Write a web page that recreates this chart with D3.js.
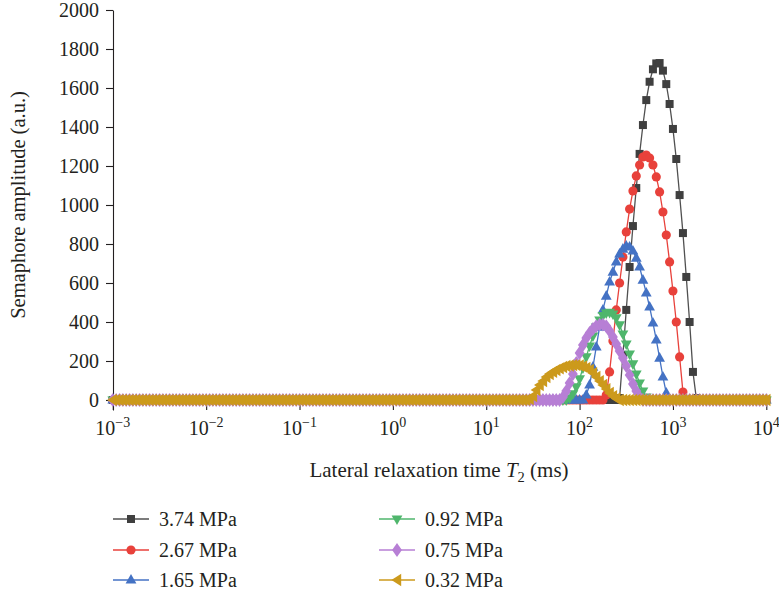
<!DOCTYPE html>
<html>
<head>
<meta charset="utf-8">
<script src="https://cdn.jsdelivr.net/npm/d3@7/dist/d3.min.js"></script>
<style>
  body { margin: 0; background: #ffffff; }
  svg { display: block; }
  svg text { font-family: "Liberation Serif", "Times New Roman", serif; fill: #231f20; }
</style>
</head>
<body>
<svg id="chart" width="779" height="596"></svg>
<script>
// T2 sampling grid of the inversion: 28 points per decade, 1e-3 .. 1e4 ms
const t2Grid = d3.range(197).map(i => Math.pow(10, -3 + i / 28));

// Legend names of the six spectra
const pressureLabels = ["3.74 MPa", "2.67 MPa", "1.65 MPa", "0.92 MPa", "0.75 MPa", "0.32 MPa"];

// Index in t2Grid of the first non-zero amplitude of each spectrum (zero elsewhere)
const firstIndex = [152, 148, 142, 137, 135, 125];

// Amplitudes (a.u.) of each spectrum, starting at its firstIndex
const amp374 = [10, 231, 462, 682, 892, 1087, 1262, 1410, 1538, 1632, 1696, 1726, 1728, 1689, 1620, 1518, 1390, 1236, 1051, 856, 631, 400, 144, 10];
const amp267 = [26, 144, 303, 462, 600, 733, 862, 979, 1072, 1149, 1205, 1246, 1256, 1241, 1205, 1144, 1067, 964, 846, 708, 559, 400, 221, 41];
const amp165 = [26, 77, 169, 272, 374, 462, 533, 605, 656, 708, 749, 774, 790, 785, 764, 728, 682, 615, 549, 477, 395, 308, 215, 118, 36];
const amp092 = [10, 31, 67, 108, 164, 221, 277, 328, 374, 410, 433, 446, 449, 441, 421, 385, 338, 287, 236, 185, 133, 87, 46, 15];
const amp075 = [15, 46, 87, 133, 190, 241, 282, 318, 344, 364, 379, 387, 387, 379, 354, 323, 287, 251, 215, 174, 128, 82, 46, 15];
const amp032 = [5, 20, 51, 77, 97, 118, 133, 144, 154, 162, 169, 174, 177, 179, 179, 177, 172, 164, 154, 138, 118, 97, 77, 56, 36, 20, 8];

const yTickValues = [0, 200, 400, 600, 800, 1000, 1200, 1400, 1600, 1800, 2000];
const xTickExponents = [-3, -2, -1, 0, 1, 2, 3, 4];

const markerColors = ["#3f3f3f", "#e8413b", "#4472c4", "#4fb66c", "#b77fd5", "#cc9a1c"];
const lineColors   = ["#505050", "#e8413b", "#4472c4", "#4fb66c", "#b77fd5", "#cc9a1c"];

// Marker outlines, relative to the marker centre
const markerShapes = [
  "M-4,-4H4V4H-4Z",                                   // square
  d3.symbol(d3.symbolCircle, 66)(),                   // circle
  "M0,-6L5.4,3.6H-5.4Z",                              // triangle up
  "M0,6L5.4,-3.6H-5.4Z",                              // triangle down
  "M0,-6.9L4.9,0L0,6.9L-4.9,0Z",                      // diamond
  "M-5.6,0L4.2,-6.2V6.2Z"                             // triangle left
];

const ampArrays = [amp374, amp267, amp165, amp092, amp075, amp032];
const series = ampArrays.map((arr, s) => t2Grid.map((t, i) => {
  const k = i - firstIndex[s];
  return { t: t, v: (k >= 0 && k < arr.length) ? arr[k] : 0 };
}));

const serif = '"Liberation Serif", "Times New Roman", serif';
const svg = d3.select("#chart");

const x = d3.scaleLog().domain([1e-3, 1e4]).range([112.8, 766.3]);
const y = d3.scaleLinear().domain([-51.3, 2000]).range([410, 10]);

// Y axis
const yAxis = svg.append("g")
  .attr("transform", "translate(113,0)")
  .call(d3.axisLeft(y).tickValues(yTickValues).tickFormat(d3.format("d"))
    .tickSize(7).tickSizeOuter(0).tickPadding(7));
yAxis.attr("font-family", null).attr("font-size", null);
yAxis.select(".domain").attr("stroke", "#231f20").attr("stroke-width", 1.1);
yAxis.selectAll(".tick line").attr("stroke", "#231f20").attr("stroke-width", 1.1);
yAxis.selectAll(".tick text")
  .style("font-family", serif)
  .style("font-size", "20px")
  .attr("fill", "#231f20");

// X axis: decade ticks only, no baseline
const xAxis = svg.append("g")
  .attr("transform", "translate(0,410)")
  .call(d3.axisBottom(x).tickValues(xTickExponents.map(e => Math.pow(10, e))).tickSize(-6).tickFormat(() => ""));
xAxis.select(".domain").remove();
xAxis.selectAll(".tick line").attr("stroke", "#231f20").attr("stroke-width", 1.1);

const xLabels = svg.append("g").selectAll("text")
  .data(xTickExponents)
  .join("text")
  .attr("x", e => x(Math.pow(10, e)))
  .attr("y", 435)
  .attr("text-anchor", "middle")
  .style("font-size", "20px");
xLabels.append("tspan").text("10");
xLabels.append("tspan")
  .style("font-size", "14px")
  .attr("dy", -8)
  .text(e => e < 0 ? "\u2212" + Math.abs(e) : String(e));

// Axis titles
svg.append("text")
  .attr("transform", "translate(25,205) rotate(-90)")
  .attr("text-anchor", "middle")
  .style("font-size", "20.5px")
  .text("Semaphore amplitude (a.u.)");

const xTitle = svg.append("text")
  .attr("x", 439)
  .attr("y", 477)
  .attr("text-anchor", "middle")
  .style("font-size", "21px");
xTitle.append("tspan").text("Lateral relaxation time ");
xTitle.append("tspan").attr("font-style", "italic").text("T");
xTitle.append("tspan").style("font-size", "14.5px").attr("dy", 5).text("2");
xTitle.append("tspan").attr("dy", -5).text(" (ms)");

// Spectra: line then markers, drawn in legend order
const line = d3.line().x(d => x(d.t)).y(d => y(d.v));
series.forEach((data, s) => {
  const g = svg.append("g");
  g.append("path")
    .datum(data)
    .attr("d", line)
    .attr("fill", "none")
    .attr("stroke", lineColors[s])
    .attr("stroke-width", 1.3);
  g.selectAll("path.m")
    .data(data)
    .join("path")
    .attr("class", "m")
    .attr("transform", d => `translate(${x(d.t)},${y(d.v)})`)
    .attr("d", markerShapes[s])
    .attr("fill", markerColors[s]);
});

// Legend: two columns of three entries
const legendCols = [113, 379];
const legendRows = [519, 550, 580];
pressureLabels.forEach((label, s) => {
  const lx = legendCols[Math.floor(s / 3)];
  const ly = legendRows[s % 3];
  const g = svg.append("g").attr("transform", `translate(${lx},${ly})`);
  g.append("line").attr("x1", 0).attr("x2", 36).attr("y1", 0).attr("y2", 0)
    .attr("stroke", lineColors[s]).attr("stroke-width", 1.3);
  g.append("path").attr("transform", "translate(18,0)").attr("d", markerShapes[s]).attr("fill", markerColors[s]);
  g.append("text").attr("x", 46).attr("y", 7).style("font-size", "20px").text(label);
});
</script>
</body>
</html>
